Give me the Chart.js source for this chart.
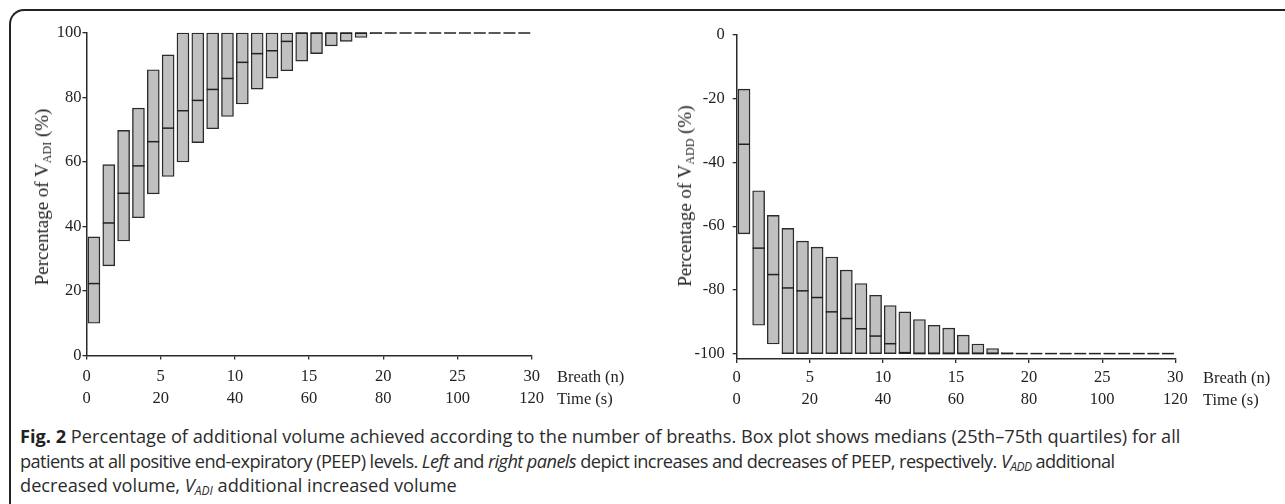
<!DOCTYPE html>
<html>
<head>
<meta charset="utf-8">
<script src="https://cdn.jsdelivr.net/npm/chart.js@4/dist/chart.umd.min.js"></script>
<style>
  html, body { margin:0; padding:0; background:#fff; }
  body { width:1285px; height:504px; position:relative; overflow:hidden; }
  #frame { position:absolute; left:9px; top:9px; width:1400px; height:600px;
           border-top:2px solid #222; border-left:2px solid #222; border-top-left-radius:15px; }
  .panel { position:absolute; top:0; height:420px; }
  .ytitle { position:absolute; transform:translate(-50%,-50%) rotate(-90deg); white-space:nowrap;
            font-family:"Liberation Serif", serif; font-size:19px; color:#222; }
  .ytitle sub { font-size:12px; vertical-align:-3px; line-height:0; }
  .xname { position:absolute; font-family:"Liberation Serif", serif; font-size:16.5px; color:#222;
           white-space:nowrap; transform:translateY(-50%); }
  #caption { position:absolute; left:20px; top:424px; font-family:"Open Sans", sans-serif; font-size:18.2px;
             line-height:24.5px; color:#2b2b2b; white-space:nowrap; }
  #caption .ln { display:block; }
  #caption .l2 { letter-spacing:-0.58px; }
  #caption b { color:#222; }
  #caption sub { font-size:12px; vertical-align:-3px; line-height:0; }
</style>
</head>
<body>
<div id="frame"></div>
<div class="panel" style="left:0;width:640px;"><canvas id="leftChart"></canvas></div>
<div class="panel" style="left:640px;width:645px;"><canvas id="rightChart"></canvas></div>

<div class="ytitle" style="left:42px;top:197px;">Percentage of V<sub>ADI</sub> (%)</div>
<div class="ytitle" style="left:685px;top:196px;">Percentage of V<sub>ADD</sub> (%)</div>

<div class="xname" style="left:557px;top:377px;">Breath (n)</div>
<div class="xname" style="left:557px;top:399px;">Time (s)</div>
<div class="xname" style="left:1203px;top:378px;">Breath (n)</div>
<div class="xname" style="left:1203px;top:400px;">Time (s)</div>

<div id="caption"><span class="ln l1"><b>Fig. 2</b> Percentage of additional volume achieved according to the number of breaths. Box plot shows medians (25th–75th quartiles) for all</span><span class="ln l2">patients at all positive end-expiratory (PEEP) levels. <i>Left</i> and <i>right panels</i> depict increases and decreases of PEEP, respectively. <i>V<sub>ADD</sub></i> additional</span><span class="ln l3">decreased volume, <i>V<sub>ADI</sub></i> additional increased volume</span></div>

<script>
// ---- data ----
const breaths = [1,2,3,4,5,6,7,8,9,10,11,12,13,14,15,16,17,18,19,20,21,22,23,24,25,26,27,28,29,30];
const breathTicks = [0,5,10,15,20,25,30];
const timeTicks = [0,20,40,60,80,100,120];

const leftYTicks = [0,20,40,60,80,100];
const leftQ1 = [10.0,27.8,35.5,42.7,50.1,55.5,60.0,66.0,70.3,74.1,78.0,82.6,86.0,88.3,91.3,93.6,96.0,97.4,98.6,99.8,100,100,100,100,100,100,100,100,100,100];
const leftMedian = [22.3,41.1,50.3,58.8,66.3,70.5,75.9,79.1,82.5,85.9,90.9,93.6,94.5,97.4,100,100,100,100,100,100,100,100,100,100,100,100,100,100,100,100];
const leftQ3 = [36.8,59.2,69.8,76.7,88.6,93.2,100,100,100,100,100,100,100,100,100,100,100,100,100,100,100,100,100,100,100,100,100,100,100,100];

const rightYTicks = [0,-20,-40,-60,-80,-100];
const rightQ1 = [-62.4,-91.1,-97.0,-100,-100,-100,-100,-100,-100,-100,-100,-100,-100,-100,-100,-100,-100,-100,-100,-100,-100,-100,-100,-100,-100,-100,-100,-100,-100,-100];
const rightMedian = [-34.3,-66.9,-75.2,-79.4,-80.3,-82.4,-86.9,-89.0,-92.2,-94.5,-96.9,-99.7,-100,-100,-100,-100,-100,-100,-100,-100,-100,-100,-100,-100,-100,-100,-100,-100,-100,-100];
const rightQ3 = [-17.0,-48.9,-56.6,-60.7,-64.7,-66.6,-69.7,-73.8,-78.0,-81.7,-84.9,-86.9,-89.3,-91.1,-92.0,-94.2,-97.0,-98.4,-99.7,-100,-100,-100,-100,-100,-100,-100,-100,-100,-100,-100];

// ---- chart builder ----
const AXIS = '#2a2a2a';
function makeChart(id, q1, med, q3, yMin, yMax, yTicks, g) {
  const boxData = breaths.map((b, i) => ({ x: b - 0.5, y: [q1[i], q3[i]] }));
  const medData = breaths.map((b, i) => ({ x: b - 0.5, y: med[i] }));
  return new Chart(document.getElementById(id), {
    type: 'bar',
    data: {
      datasets: [
        { type: 'bar', data: boxData, backgroundColor: '#c0c0c0', borderColor: '#2b2b2b',
          borderWidth: 1.4, borderSkipped: false, barThickness: 12, clip: false, order: 2 },
        { type: 'scatter', data: medData, pointStyle: 'line', pointRadius: 6, pointHoverRadius: 6,
          borderColor: '#222', backgroundColor: '#222', borderWidth: 1.5, clip: false, order: 1 }
      ]
    },
    options: {
      responsive: true, maintainAspectRatio: false, animation: false, events: [],
      layout: { padding: { left: 0, top: g.top, right: g.right, bottom: 0 } },
      plugins: { legend: { display: false }, tooltip: { enabled: false } },
      scales: {
        x: {
          type: 'linear', min: 0, max: 30, offset: false,
          grid: { display: true, drawOnChartArea: false, drawTicks: true, tickLength: 4, color: AXIS, lineWidth: 1.3, offset: false },
          border: { display: true, color: AXIS, width: 1.5 },
          ticks: {
            autoSkip: false, maxRotation: 0, padding: g.xpad, color: '#222',
            font: { family: 'Liberation Serif', size: 16.5, lineHeight: 1.333 },
            callback: (v) => [String(v), String(timeTicks[breathTicks.indexOf(v)])]
          },
          afterBuildTicks: (s) => { s.ticks = breathTicks.map(v => ({ value: v })); },
          afterFit: (s) => { s.height = g.xh; }
        },
        y: {
          type: 'linear', min: yMin, max: yMax,
          grid: { display: true, drawOnChartArea: false, drawTicks: true, tickLength: 4, color: AXIS, lineWidth: 1.3 },
          border: { display: true, color: AXIS, width: 1.5 },
          ticks: {
            padding: g.ypad, color: '#222',
            font: { family: 'Liberation Serif', size: 16.5 },
            callback: (v) => String(v)
          },
          afterBuildTicks: (s) => { s.ticks = yTicks.map(v => ({ value: v })); },
          afterFit: (s) => { s.width = g.yw; }
        }
      }
    }
  });
}

makeChart('leftChart', leftQ1, leftMedian, leftQ3, 0, 100, leftYTicks,
  { top: 33, right: 108.3, xh: 64.5, yw: 86.5, xpad: 6.5, ypad: 1 });
makeChart('rightChart', rightQ1, rightMedian, rightQ3, -101.7, 0, rightYTicks,
  { top: 35, right: 109.7, xh: 61, yw: 96.7, xpad: 4, ypad: 8 });
</script>
</body>
</html>
